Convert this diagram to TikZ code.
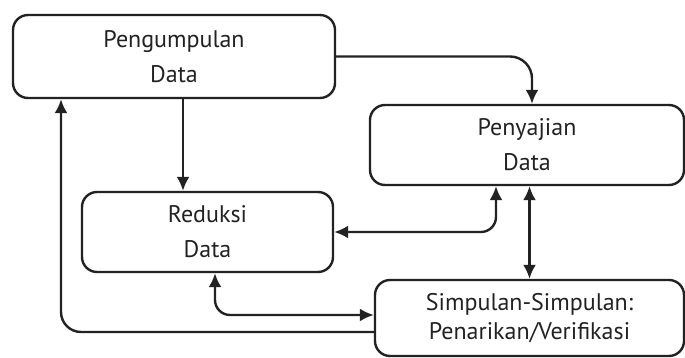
\documentclass[tikz,border=0pt]{standalone}
\usepackage{fontspec}
\setmainfont{PT Sans}
\usetikzlibrary{arrows.meta,calc}
\definecolor{ink}{HTML}{222222}
\begin{document}
\begin{tikzpicture}[x=1pt,y=-1pt,
  box/.style={draw=ink,line width=2.4pt,rounded corners=15pt,align=center,
    inner sep=0pt,text=ink,font=\fontsize{24}{35}\selectfont},
  arr/.style={draw=ink,line width=2.4pt,-{Latex[length=14pt,width=13pt]}},
  arrtwo/.style={draw=ink,line width=2.4pt,{Latex[length=14pt,width=13pt]}-{Latex[length=14pt,width=13pt]}}]
\useasboundingbox (0,0) rectangle (685,358);
\node[box,minimum width=322pt,minimum height=83pt] (b1) at (174,56.5) {Pengumpulan\\Data};
\node[box,minimum width=314pt,minimum height=80pt] (b2) at (527,145) {Penyajian\\Data};
\node[box,minimum width=251pt,minimum height=80pt] (b3) at (207.5,232) {Reduksi\\Data};
\node[box,minimum width=309pt,minimum height=76pt,font=\fontsize{24}{29}\selectfont] (b4) at (529.5,318) {Simpulan-Simpulan:\\Penarikan/Verifikasi};
\coordinate (c1) at ([xshift=-24.5pt]b3.north);
\coordinate (c2) at ([xshift=5pt]b2.north);
\coordinate (c3) at ([xshift=-31pt]b2.south);
\coordinate (c4) at ([xshift=7.5pt]b3.south);
\coordinate (c5) at ([yshift=3pt]b4.west);
\coordinate (c6) at ([yshift=-14pt]b4.west);
\coordinate (c7) at ([xshift=-113pt]b1.south);
\draw[arr,rounded corners=22pt] (b1.east) -| (c2);
\draw[arr] (b1.south -| c1) -- (c1);
\draw[arrtwo,rounded corners=15pt] (b3.east) -| (c3);
\draw[arrtwo] (b4.north) -- (b4.north |- b2.south);
\draw[arrtwo,rounded corners=15pt] (c4) |- (c5);
\draw[arr,rounded corners=20pt] (c6) -| (c7);
\end{tikzpicture}
\end{document}
